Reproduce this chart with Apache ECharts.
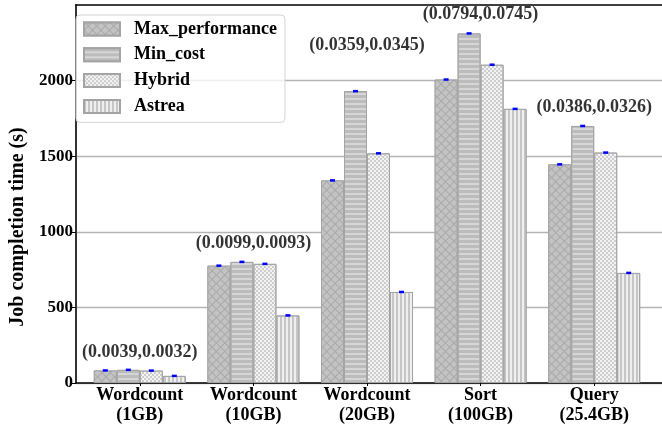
<!DOCTYPE html>
<html><head><meta charset="utf-8">
<script src="https://cdn.jsdelivr.net/npm/echarts@6/dist/echarts.min.js"></script>
<style>html,body{margin:0;padding:0;background:#fff}#c{width:662px;height:427px}</style>
</head><body><div id="c"></div>
<script>
// ---- data ----
const categories = ['Wordcount\n(1GB)', 'Wordcount\n(10GB)', 'Wordcount\n(20GB)', 'Sort\n(100GB)', 'Query\n(25.4GB)'];
const seriesNames = ['Max_performance', 'Min_cost', 'Hybrid', 'Astrea'];
const maxPerformance = [83, 776, 1340, 2007, 1446];
const minCost = [87, 801, 1930, 2312, 1700];
const hybrid = [82, 788, 1519, 2105, 1524];
const astrea = [47, 447, 602, 1813, 728];
const annotations = ['(0.0039,0.0032)', '(0.0099,0.0093)', '(0.0359,0.0345)', '(0.0794,0.0745)', '(0.0386,0.0326)'];
const annotationY = [206, 922, 2235, 2438, 1824];
const yTicks = [0, 500, 1000, 1500, 2000];
const yMax = 2500;

// ---- styles ----
const FONT = 'Liberation Serif';
const decals = [
  { fill: '#a9a9a9', decal: { symbol: 'rect', symbolSize: 1, color: '#c3c3c3', dashArrayX: [5, 1], dashArrayY: [5, 1], rotation: Math.PI / 4 } },
  { fill: '#d6d6d6', decal: { symbol: 'rect', symbolSize: 1, color: '#bcbcbc', dashArrayX: [1, 0], dashArrayY: [3, 2], rotation: 0 } },
  { fill: '#f3f3f3', decal: { symbol: 'rect', symbolSize: 1, color: '#cdcdcd', dashArrayX: [[2, 2], [0, 2, 2, 0]], dashArrayY: [2, 0], rotation: 0 } },
  { fill: '#efefef', decal: { symbol: 'rect', symbolSize: 1, color: '#c6c6c6', dashArrayX: [2, 2], dashArrayY: [1, 0], rotation: 0 } }
];
const valuesList = [maxPerformance, minCost, hybrid, astrea];

const chart = echarts.init(document.getElementById('c'), null, { renderer: 'canvas' });

const barSeries = seriesNames.map((name, k) => ({
  name: name,
  type: 'bar',
  xAxisIndex: 2,
  yAxisIndex: 1,
  barWidth: 23,
  barGap: '0%',
  data: valuesList[k],
  itemStyle: { color: decals[k].fill, decal: decals[k].decal, borderColor: '#a4a4a4', borderWidth: 1 },
  markPoint: {
    symbol: 'rect',
    symbolSize: [5, 2.5],
    silent: true,
    itemStyle: { color: '#0000ff' },
    label: { show: false },
    data: valuesList[k].map((v, i) => ({ coord: [categories[i], v] }))
  },
  z: 3
}));

const option = {
  animation: false,
  backgroundColor: '#fff',
  grid: [
    { left: 65, right: 0, top: 5, bottom: 44, containLabel: false },
    { left: 83, width: 568, top: 5, bottom: 44, containLabel: false }
  ],
  legend: {
    data: seriesNames,
    orient: 'vertical',
    left: 76, top: 15,
    itemWidth: 36, itemHeight: 13, itemGap: 7.8,
    padding: [5, 8, 7, 7],
    backgroundColor: 'rgba(255,255,255,0.8)',
    borderColor: '#d4d4d4', borderWidth: 1, borderRadius: 4,
    icon: 'rect',
    textStyle: { fontFamily: FONT, fontWeight: 'bold', fontSize: 18, color: '#000', padding: [0, 0, 0, 9] },
    z: 10
  },
  xAxis: [
    { gridIndex: 0, type: 'value', min: 0, max: 1, position: 'bottom',
      axisLine: { show: true, lineStyle: { color: '#000', width: 1.5 } },
      axisTick: { show: false }, axisLabel: { show: false }, splitLine: { show: false } },
    { gridIndex: 0, type: 'value', min: 0, max: 1, position: 'top',
      axisLine: { show: true, lineStyle: { color: '#000', width: 1.5 } },
      axisTick: { show: false }, axisLabel: { show: false }, splitLine: { show: false } },
    { gridIndex: 1, type: 'category', data: categories, boundaryGap: true,
      axisLine: { show: false },
      axisTick: { show: true, alignWithLabel: true, length: 3, lineStyle: { color: '#000' } },
      axisLabel: { fontFamily: FONT, fontWeight: 'bold', fontSize: 18, lineHeight: 20, color: '#000', margin: 2, interval: 0 },
      splitLine: { show: false } }
  ],
  yAxis: [
    { gridIndex: 0, type: 'value', min: 0, max: yMax, interval: 500,
      name: 'Job completion time (s)', nameLocation: 'middle', nameGap: 39,
      nameTextStyle: { fontFamily: FONT, fontWeight: 'bold', fontSize: 20, color: '#000', padding: [0, 66, 0, 0] },
      axisLine: { show: true, lineStyle: { color: '#333', width: 2 } },
      axisTick: { show: true, length: 4, lineStyle: { color: '#000' }, customValues: yTicks },
      axisLabel: { fontFamily: FONT, fontWeight: 'bold', fontSize: 17, color: '#000', margin: 3, customValues: yTicks,
        formatter: v => String(v) },
      splitLine: { show: true, lineStyle: { color: '#b4b4b4', width: 1.3 } } },
    { gridIndex: 1, type: 'value', min: 0, max: yMax, interval: 500, show: false,
      splitLine: { show: false } }
  ],
  series: barSeries.concat([{
    type: 'scatter',
    xAxisIndex: 2, yAxisIndex: 1,
    symbolSize: 0,
    silent: true,
    data: categories.map((c, i) => [c, annotationY[i]]),
    label: { show: true, position: 'inside', formatter: p => annotations[p.dataIndex],
      fontFamily: FONT, fontWeight: 'bold', fontSize: 18, color: '#000' },
    z: 5
  }])
};
chart.setOption(option);
</script>
</body></html>
